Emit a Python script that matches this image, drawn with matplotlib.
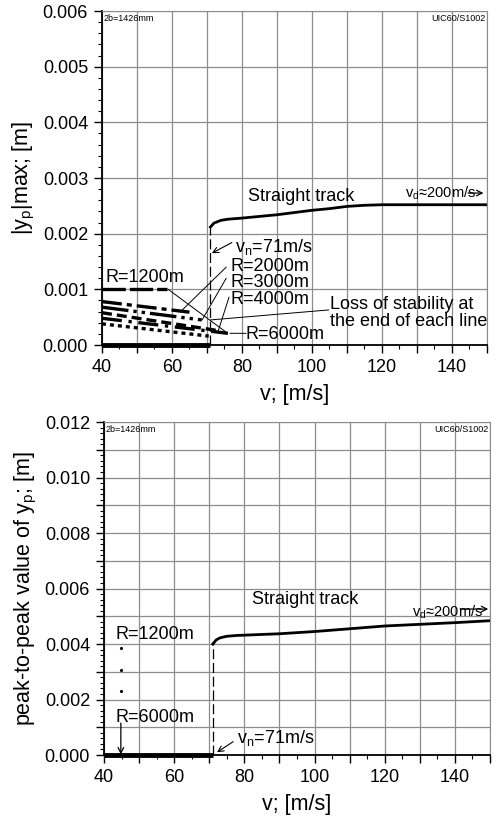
import matplotlib.pyplot as plt
from matplotlib.ticker import MultipleLocator, FuncFormatter

plt.rcParams['font.family'] = ['Liberation Sans', 'DejaVu Sans']
plt.rcParams['mathtext.fontset'] = 'custom'
plt.rcParams['mathtext.rm'] = 'Liberation Sans'

# --- data ---
# straight track, |yp|max
v_st_top = [71, 72, 74, 76, 80, 85, 90, 95, 100, 105, 110, 115, 120, 130, 140, 150]
y_st_top = [0.00212, 0.00219, 0.00224, 0.00226, 0.00228, 0.00231, 0.00234, 0.00238,
            0.00242, 0.00245, 0.00249, 0.00251, 0.00252, 0.00252, 0.00252, 0.00252]

# curves, |yp|max (start and end of each line)
radii = ['1200', '2000', '3000', '4000', '5000', '6000']
v_curve = [[40, 58.5], [40, 65], [40, 68.5], [40, 73], [40, 76], [40, 70.5]]
y_curve = [[0.00100, 0.00100], [0.00078, 0.00059], [0.00068, 0.00045],
           [0.00058, 0.00026], [0.00048, 0.00021], [0.00038, 0.00016]]
dash_styles = [(7, 1.2), (6, 1.5, 1.5, 1.5), (8, 1.5, 1, 1.5, 1, 1.5),
               (3, 1.5), (6, 2, 1, 2), (1.2, 1.2)]

# straight track, peak-to-peak
v_st_bot = [71, 72, 73, 75, 78, 82, 90, 100, 110, 120, 130, 140, 150]
y_st_bot = [0.00400, 0.00415, 0.00422, 0.00428, 0.00431, 0.00433, 0.00437,
            0.00445, 0.00455, 0.00465, 0.00471, 0.00477, 0.00484]

# below critical speed everything is zero
v_zero = [40, 71]
y_zero = [0, 0]
v_n = 71

# the "R=1200m ... R=6000m" dots in the lower graph
v_dots = [44.8, 44.8, 44.8]
y_dots = [0.00386, 0.00306, 0.00231]

grid_c = '#8c8c8c'
fs = 13


def style_axes(ax, ymax, ylab_step):
    ax.set_xlim(40, 150)
    ax.set_ylim(0, ymax)
    ax.xaxis.set_major_locator(MultipleLocator(10))
    ax.xaxis.set_minor_locator(MultipleLocator(5))
    ax.yaxis.set_major_locator(MultipleLocator(0.001))
    ax.yaxis.set_minor_locator(MultipleLocator(0.0002))
    ax.xaxis.set_major_formatter(FuncFormatter(lambda x, p: '%d' % x if round(x) % 20 == 0 else ''))
    step = ylab_step
    ax.yaxis.set_major_formatter(FuncFormatter(
        lambda y, p: '%.3f' % y if abs(round(y / step) * step - y) < 1e-9 else ''))
    ax.grid(True, which='major', color=grid_c, lw=0.9)
    ax.tick_params(which='major', direction='out', length=6, width=1, labelsize=13, pad=4)
    ax.tick_params(which='minor', direction='out', length=3, width=0.8)
    ax.spines['top'].set_color(grid_c)
    ax.spines['right'].set_color(grid_c)
    ax.spines['left'].set_linewidth(1.3)
    ax.spines['bottom'].set_linewidth(1.3)
    ax.set_xlabel('v; [m/s]', fontsize=15.5, labelpad=6)
    ax.text(0.004, 0.99, '2b=1426mm', transform=ax.transAxes, fontsize=6.5, va='top', ha='left')
    ax.text(0.997, 0.99, 'UIC60/S1002', transform=ax.transAxes, fontsize=6.5, va='top', ha='right')


fig = plt.figure(figsize=(4.96, 8.23), dpi=100)

# ---------------- top graph ----------------
ax1 = fig.add_axes([0.2056, 0.5808, 0.7762, 0.4058])
style_axes(ax1, 0.006, 0.001)
ax1.set_ylabel('|y$_\\mathregular{p}$|max; [m]', fontsize=15.5, labelpad=4)

ax1.plot(v_zero, y_zero, color='k', lw=3.5, solid_capstyle='butt', clip_on=False, zorder=5)
ax1.plot([v_n, v_n], [0, y_st_top[0]], color='k', lw=0.9, dashes=(8, 3))
ax1.plot(v_st_top, y_st_top, color='k', lw=2)
for i in range(len(radii)):
    ax1.plot(v_curve[i], y_curve[i], color='k', lw=2.4, dashes=dash_styles[i])

thin = dict(arrowstyle='-', color='k', lw=0.7, shrinkA=0, shrinkB=0)
ax1.text(41.1, 0.00121, 'R=1200m', fontsize=fs, va='center')
ax1.annotate('', xy=(75.7, 0.00022), xytext=(58.9, 0.001), arrowprops=thin)
ax1.text(76.6, 0.00141, 'R=2000m', fontsize=fs, va='center')
ax1.annotate('', xy=(62.3, 0.00059), xytext=(75.5, 0.00140), arrowprops=thin)
ax1.text(76.6, 0.00113, 'R=3000m', fontsize=fs, va='center')
ax1.annotate('', xy=(68.6, 0.00045), xytext=(75.5, 0.00120), arrowprops=thin)
ax1.text(76.6, 0.00081, 'R=4000m', fontsize=fs, va='center')
ax1.annotate('', xy=(73.1, 0.00023), xytext=(76.3, 0.00086), arrowprops=thin)
ax1.text(81.0, 0.00018, 'R=6000m', fontsize=fs, va='center')
ax1.annotate('', xy=(76.6, 0.00021), xytext=(81.2, 0.00021), arrowprops=thin)
ax1.text(105.1, 0.00057, 'Loss of stability at\nthe end of each line', fontsize=fs,
         va='center', linespacing=1.0)
ax1.annotate('', xy=(70.9, 0.00045), xytext=(104.8, 0.00063), arrowprops=thin)

ax1.text(78.0, 0.00176, 'v$_\\mathregular{n}$=71m/s', fontsize=fs, va='center')
ax1.annotate('', xy=(71.4, 0.00165), xytext=(77.1, 0.00184),
             arrowprops=dict(arrowstyle='->', color='k', lw=0.8, shrinkA=0, shrinkB=0))
ax1.text(81.7, 0.00267, 'Straight track', fontsize=fs, va='center')
ax1.text(126.6, 0.00272, 'v$_\\mathregular{d}$≈200m/s', fontsize=10.5, va='center')
ax1.annotate('', xy=(149.0, 0.00273), xytext=(144.6, 0.00273),
             arrowprops=dict(arrowstyle='->', color='k', lw=0.9, shrinkA=0, shrinkB=0))

# ---------------- bottom graph ----------------
ax2 = fig.add_axes([0.2097, 0.0826, 0.7782, 0.4046])
style_axes(ax2, 0.012, 0.002)
ax2.set_ylabel('peak-to-peak value of y$_\\mathregular{p}$; [m]', fontsize=15.5, labelpad=4)

ax2.plot(v_zero, y_zero, color='k', lw=3.5, solid_capstyle='butt', clip_on=False, zorder=5)
ax2.plot([v_n, v_n], [0, y_st_bot[0]], color='k', lw=0.9, dashes=(8, 3))
ax2.plot(v_st_bot, y_st_bot, color='k', lw=2)

ax2.text(43.4, 0.00433, 'R=1200m', fontsize=fs, va='center')
ax2.plot(v_dots, y_dots, 'k.', ms=2.5)
ax2.text(43.4, 0.00137, 'R=6000m', fontsize=fs, va='center')
ax2.annotate('', xy=(44.8, 0.00002), xytext=(44.8, 0.00115),
             arrowprops=dict(arrowstyle='->', color='k', lw=0.9, shrinkA=0, shrinkB=0))

ax2.text(77.9, 0.00061, 'v$_\\mathregular{n}$=71m/s', fontsize=fs, va='center')
ax2.annotate('', xy=(72.2, 0.00010), xytext=(76.8, 0.00048),
             arrowprops=dict(arrowstyle='->', color='k', lw=0.8, shrinkA=0, shrinkB=0))
ax2.text(82.2, 0.00560, 'Straight track', fontsize=fs, va='center')
ax2.text(127.7, 0.00514, 'v$_\\mathregular{d}$≈200m/s', fontsize=10.5, va='center')
ax2.annotate('', xy=(149.5, 0.00526), xytext=(141.5, 0.00526),
             arrowprops=dict(arrowstyle='->', color='k', lw=0.9, shrinkA=0, shrinkB=0))

plt.savefig('out.png', dpi=100)
